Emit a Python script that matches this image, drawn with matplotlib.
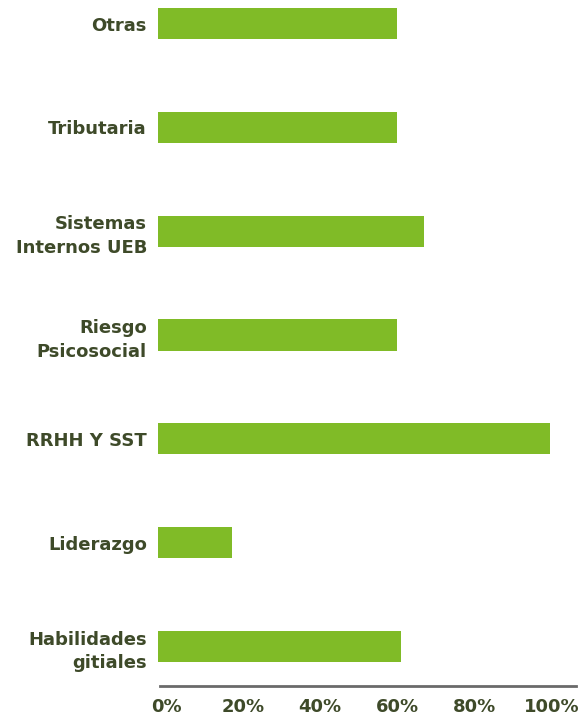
import matplotlib.pyplot as plt
import matplotlib.transforms as mtransforms

# categories listed bottom to top
categories = ["Habilidades\ngitiales", "Liderazgo", "RRHH Y SST",
              "Riesgo\nPsicosocial", "Sistemas\nInternos UEB",
              "Tributaria", "Otras"]
values = [62, 19, 100, 61, 68, 61, 61]
tick_values = [0, 20, 40, 60, 80, 100]
tick_labels = ["0%", "20%", "40%", "60%", "80%", "100%"]

GREEN = "#80bb27"
TEXT = "#3e4a29"


def main():
    plt.rcParams["font.family"] = ["DejaVu Sans"]
    fig = plt.figure(figsize=(5.78, 7.17), dpi=100)
    ax = fig.add_axes([158 / 578, 31 / 717, 418 / 578, 678 / 717])

    pos = list(range(len(categories)))
    ax.barh(pos, values, height=0.3, color=GREEN)

    ax.set_xlim(0, 106.7)
    ax.set_ylim(-0.38, len(categories) - 1 + 0.15)

    ax.set_yticks(pos)
    ax.set_yticklabels(categories, fontsize=13, fontweight="bold",
                       color=TEXT, linespacing=1.4)
    ax.set_xticks(tick_values)
    ax.set_xticklabels(tick_labels, fontsize=13, fontweight="bold",
                       color=TEXT)
    ax.tick_params(axis="y", length=0, pad=8)
    ax.tick_params(axis="x", length=0, pad=9)

    # percentage labels sit slightly right of their ticks
    for v, lbl in zip(tick_values, ax.get_xticklabels()):
        dx = (8 - 0.065 * v) / 100
        shift = mtransforms.ScaledTranslation(dx, 0, fig.dpi_scale_trans)
        lbl.set_transform(lbl.get_transform() + shift)

    for side in ["left", "right", "top"]:
        ax.spines[side].set_visible(False)
    ax.spines["bottom"].set_color("#6a6a6a")
    ax.spines["bottom"].set_linewidth(2)
    ax.spines["bottom"].set_bounds(0.5, 106.7)

    fig.savefig("out.png", dpi=100)


if __name__ == "__main__":
    main()
